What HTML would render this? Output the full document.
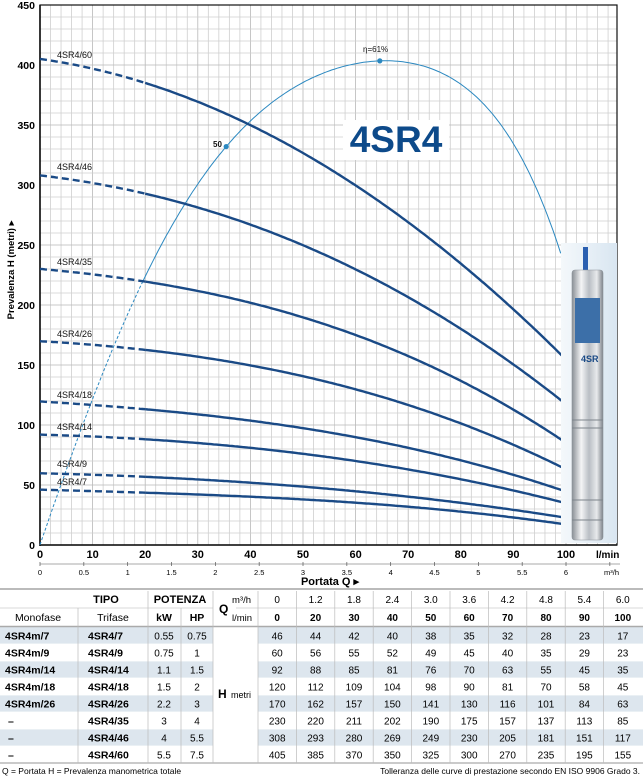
<!DOCTYPE html>
<html><head><meta charset="utf-8"><style>
body{margin:0;background:#fff;width:643px;height:778px;overflow:hidden}
svg text{font-family:"Liberation Sans Narrow","Liberation Sans",sans-serif}
</style></head><body>
<svg id="s" width="643" height="778" xmlns="http://www.w3.org/2000/svg">
<defs>
<linearGradient id="bg" x1="0" x2="1"><stop offset="0" stop-color="#f4f8fb"/><stop offset="1" stop-color="#d9e6f1"/></linearGradient>
<linearGradient id="cy" x1="0" x2="1"><stop offset="0" stop-color="#8a8f95"/><stop offset="0.3" stop-color="#f4f5f6"/><stop offset="0.55" stop-color="#b9bec4"/><stop offset="0.8" stop-color="#e8eaec"/><stop offset="1" stop-color="#7d838a"/></linearGradient>
</defs>
<g id="grid"></g>
<g id="curves"></g>
<g id="labels"></g>
<g id="tbl"></g>
</svg>
<script>
var NS="http://www.w3.org/2000/svg";
function el(p,t,a,txt){var e=document.createElementNS(NS,t);for(var k in a)e.setAttribute(k,a[k]);if(txt!==undefined)e.textContent=txt;p.appendChild(e);return e;}
var X=function(q){return 40+q*5.26},Y=function(h){return 545-h*1.2};
var g=document.getElementById('grid');
for(var q=0;q<=108;q+=2){el(g,'line',{x1:X(q),x2:X(q),y1:5,y2:545,stroke:q%10==0?'#b8b8b8':'#cfcfcf','stroke-width':0.8});}
for(var h=0;h<=450;h+=10){el(g,'line',{x1:40,x2:617,y1:Y(h),y2:Y(h),stroke:h%50==0?'#b8b8b8':'#cfcfcf','stroke-width':0.8});}
el(g,'rect',{x:40,y:5,width:577,height:540,fill:'none',stroke:'#111','stroke-width':1.2});
el(g,'line',{x1:40,x2:40,y1:5,y2:546,stroke:'#111','stroke-width':1.6});
el(g,'line',{x1:40,x2:617,y1:545,y2:545,stroke:'#111','stroke-width':1.6});
function fit(pts,deg){var n=deg+1,A=[],b=[];for(var i=0;i<n;i++){A.push(new Array(n).fill(0));b.push(0);}
 pts.forEach(function(p){var x=p[0]/100;for(var i=0;i<n;i++){b[i]+=p[1]*Math.pow(x,i);for(var j=0;j<n;j++)A[i][j]+=Math.pow(x,i+j);}});
 for(var c=0;c<n;c++){var m=c;for(var r=c+1;r<n;r++)if(Math.abs(A[r][c])>Math.abs(A[m][c]))m=r;var t=A[c];A[c]=A[m];A[m]=t;t=b[c];b[c]=b[m];b[m]=t;
  for(var r=0;r<n;r++)if(r!=c){var f=A[r][c]/A[c][c];for(var j=c;j<n;j++)A[r][j]-=f*A[c][j];b[r]-=f*b[c];}}
 var co=b.map(function(v,i){return v/A[i][i]});return function(q){var x=q/100,s=0;for(var i=0;i<n;i++)s+=co[i]*Math.pow(x,i);return s;};}
function path(f,a,b){var d='';for(var q=a;q<=b+1e-9;q+=0.5){d+=(d?'L':'M')+X(q).toFixed(1)+','+Y(f(q)).toFixed(1);}return d;}
var Q=[0,20,30,40,50,60,70,80,90,100];
var D={'4SR4/7':[46,44,42,40,38,35,32,28,23,17],'4SR4/9':[60,56,55,52,49,45,40,35,29,23],'4SR4/14':[92,88,85,81,76,70,63,55,45,35],'4SR4/18':[120,112,109,104,98,90,81,70,58,45],'4SR4/26':[170,162,157,150,141,130,116,101,84,63],'4SR4/35':[230,220,211,202,190,175,157,137,113,85],'4SR4/46':[308,293,280,269,249,230,205,181,151,117],'4SR4/60':[405,385,370,350,325,300,270,235,195,155]};
var cg=document.getElementById('curves');
var ef=fit([[0,0],[10,122],[19.6,220],[27.6,285],[35.4,332],[40,352],[50,385],[57,400],[64.6,405],[74,394],[83.7,371],[90,335],[96.4,277],[98.9,243]],5);
el(cg,'path',{d:path(ef,0,19.5),fill:'none',stroke:'#2b88c0','stroke-width':1,'stroke-dasharray':'3,2'});
el(cg,'path',{d:path(ef,19.5,99),fill:'none',stroke:'#2b88c0','stroke-width':1});
var lab={'4SR4/60':58,'4SR4/46':170,'4SR4/35':265,'4SR4/26':337,'4SR4/18':398,'4SR4/14':430,'4SR4/9':467,'4SR4/7':485};
for(var k in D){var f=fit(Q.map(function(q,i){return[q,D[k][i]]}),3);
 el(cg,'path',{d:path(f,0,20),fill:'none',stroke:'#1a4a86','stroke-width':2.4,'stroke-dasharray':'7,4'});
 el(cg,'path',{d:path(f,20,100),fill:'none',stroke:'#1a4a86','stroke-width':2.4});
 el(cg,'text',{x:57,y:lab[k],'font-size':9,fill:'#111'},k);}
el(cg,'circle',{cx:X(35.4),cy:Y(ef(35.4)),r:2.6,fill:'#2b88c0'});
el(cg,'circle',{cx:X(64.6),cy:Y(ef(64.6)),r:2.6,fill:'#2b88c0'});
el(cg,'text',{x:213,y:147,'font-size':8,'font-weight':'bold',fill:'#111'},'50');
el(cg,'text',{x:363,y:52,'font-size':8,fill:'#111'},'η=61%');
el(cg,'rect',{x:343,y:120,width:106,height:40,fill:'#fff'});
el(cg,'text',{x:396,y:152,'font-size':37,'font-weight':'bold','text-anchor':'middle',fill:'#0d4a8a','font-family':'Liberation Sans,sans-serif'},'4SR4');
el(cg,'rect',{x:561,y:243,width:56,height:300,fill:'url(#bg)'});
el(cg,'rect',{x:583,y:247,width:5,height:25,fill:'#2a5fb0'});
el(cg,'rect',{x:572,y:270,width:31,height:270,rx:3,fill:'url(#cy)',stroke:'#8d949b','stroke-width':0.6});
el(cg,'rect',{x:575,y:298,width:25,height:45,fill:'#3c6fa8'});
el(cg,'text',{x:581,y:362,'font-size':9,'font-weight':'bold',fill:'#1a4a86'},'4SR');
for(var yy of [420,428,500,520])el(cg,'line',{x1:572,x2:603,y1:yy,y2:yy,stroke:'#7e858c','stroke-width':1});
var lg=document.getElementById('labels');
for(var h=0;h<=450;h+=50)el(lg,'text',{x:35,y:Y(h)+4,'font-size':10.5,'font-weight':'bold','text-anchor':'end'},h);
for(var q=0;q<=100;q+=10)el(lg,'text',{x:X(q),y:558,'font-size':11,'font-weight':'bold','text-anchor':'middle'},q);
el(lg,'text',{x:596,y:558,'font-size':10,'font-weight':'bold'},'l/min');
el(lg,'line',{x1:40,x2:620,y1:564,y2:564,stroke:'#555','stroke-width':0.6});
for(var m=0;m<=6.5;m+=0.5){var xx=X(m*16.667);el(lg,'line',{x1:xx,x2:xx,y1:562,y2:566,stroke:'#555','stroke-width':0.7});
 if(m<=6)el(lg,'text',{x:xx,y:575,'font-size':7.5,'text-anchor':'middle'},m);}
el(lg,'text',{x:604,y:575,'font-size':7.5},'m³/h');
el(lg,'text',{x:330,y:585,'font-size':11,'font-weight':'bold','text-anchor':'middle'},'Portata Q ▸');
el(lg,'text',{x:0,y:0,'font-size':9.5,'font-weight':'bold','text-anchor':'middle',transform:'translate(14,270) rotate(-90)'},'Prevalenza  H  (metri)  ▸');
var t=document.getElementById('tbl');
el(t,'line',{x1:0,x2:643,y1:589,y2:589,stroke:'#bbb','stroke-width':2});
var R0=627,RH=17;
for(var i=0;i<8;i++)if(i%2==0){el(t,'rect',{x:0,y:R0+i*RH,width:213,height:RH,fill:'#dde6ee'});el(t,'rect',{x:258,y:R0+i*RH,width:385,height:RH,fill:'#dde6ee'});}
el(t,'line',{x1:0,x2:643,y1:626.5,y2:626.5,stroke:'#aaa','stroke-width':1.5});
for(var i=1;i<8;i++){el(t,'line',{x1:0,x2:213,y1:R0+i*RH,y2:R0+i*RH,stroke:'#fff','stroke-width':0.8});el(t,'line',{x1:258,x2:643,y1:R0+i*RH,y2:R0+i*RH,stroke:'#fff','stroke-width':0.8});}
el(t,'line',{x1:0,x2:643,y1:R0+8*RH,y2:R0+8*RH,stroke:'#aaa','stroke-width':1.2});
el(t,'line',{x1:0,x2:213,y1:608,y2:608,stroke:'#ccc','stroke-width':0.8});
el(t,'line',{x1:236,x2:643,y1:608,y2:608,stroke:'#ccc','stroke-width':0.8});
var vx=[78,148,181,213,258];for(var i=1;i<10;i++)vx.push(258+i*38.4);
vx.forEach(function(x){el(t,'line',{x1:x,x2:x,y1:(x==78||x==181)?608:591,y2:R0+8*RH,stroke:'#bbb','stroke-width':0.7})});
el(t,'text',{x:106,y:603,'font-size':11,'font-weight':'bold','text-anchor':'middle'},'TIPO');
el(t,'text',{x:180,y:603,'font-size':11,'font-weight':'bold','text-anchor':'middle'},'POTENZA');
el(t,'text',{x:38,y:621,'font-size':10.5,'text-anchor':'middle'},'Monofase');
el(t,'text',{x:113,y:621,'font-size':10.5,'text-anchor':'middle'},'Trifase');
el(t,'text',{x:164,y:621,'font-size':10.5,'font-weight':'bold','text-anchor':'middle'},'kW');
el(t,'text',{x:197,y:621,'font-size':10.5,'font-weight':'bold','text-anchor':'middle'},'HP');
el(t,'text',{x:219,y:613,'font-size':12,'font-weight':'bold'},'Q');
el(t,'text',{x:232,y:603,'font-size':9.5},'m³/h');
el(t,'text',{x:232,y:621,'font-size':9.5},'l/min');
el(t,'text',{x:218,y:698,'font-size':12,'font-weight':'bold'},'H');
el(t,'text',{x:231,y:698,'font-size':9},'metri');
var m3=['0','1.2','1.8','2.4','3.0','3.6','4.2','4.8','5.4','6.0'];
for(var i=0;i<10;i++){var cx=258+19.2+i*38.4;el(t,'text',{x:cx,y:603,'font-size':10,'text-anchor':'middle'},m3[i]);el(t,'text',{x:cx,y:621,'font-size':10,'font-weight':'bold','text-anchor':'middle'},Q[i]);}
var rows=[['4SR4m/7','4SR4/7','0.55','0.75'],['4SR4m/9','4SR4/9','0.75','1'],['4SR4m/14','4SR4/14','1.1','1.5'],['4SR4m/18','4SR4/18','1.5','2'],['4SR4m/26','4SR4/26','2.2','3'],['–','4SR4/35','3','4'],['–','4SR4/46','4','5.5'],['–','4SR4/60','5.5','7.5']];
var keys=['4SR4/7','4SR4/9','4SR4/14','4SR4/18','4SR4/26','4SR4/35','4SR4/46','4SR4/60'];
rows.forEach(function(r,i){var y=R0+i*RH+12.5;
 el(t,'text',{x:r[0]=='–'?8:5,y:y,'font-size':10.5,'font-weight':'bold'},r[0]);
 el(t,'text',{x:88,y:y,'font-size':10.5,'font-weight':'bold'},r[1]);
 el(t,'text',{x:164,y:y,'font-size':10,'text-anchor':'middle'},r[2]);
 el(t,'text',{x:197,y:y,'font-size':10,'text-anchor':'middle'},r[3]);
 D[keys[i]].forEach(function(v,j){el(t,'text',{x:258+19.2+j*38.4,y:y,'font-size':10,'text-anchor':'middle'},v)});});
el(t,'text',{x:2,y:774,'font-size':8.5},'Q = Portata   H = Prevalenza manometrica totale');
el(t,'text',{x:640,y:774,'font-size':8.5,'text-anchor':'end'},'Tolleranza delle curve di prestazione secondo EN ISO 9906 Grado 3.');
</script>
</body></html>
